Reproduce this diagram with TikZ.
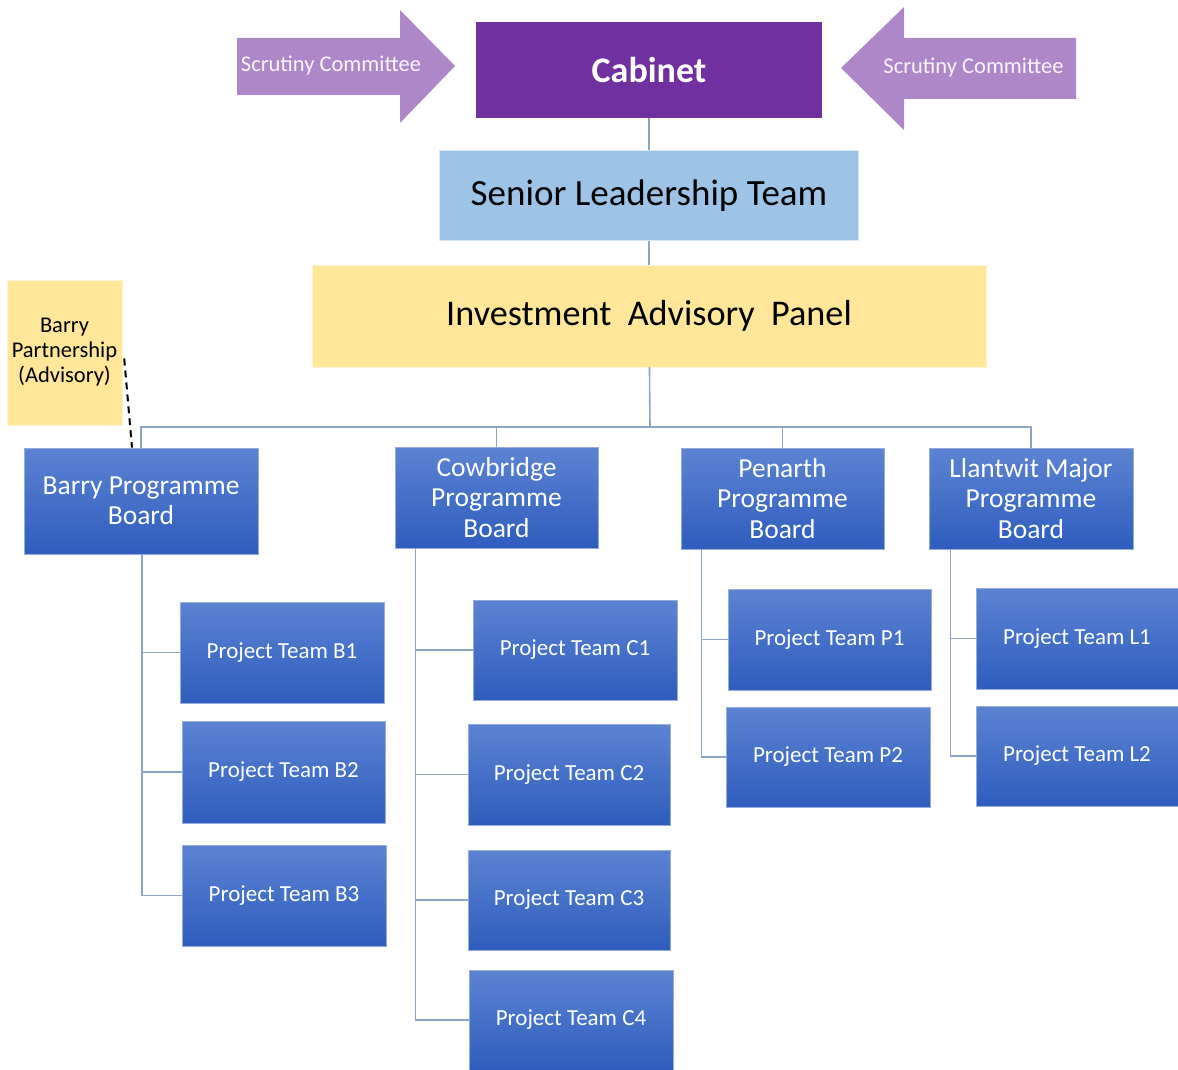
\documentclass[tikz,border=0pt]{standalone}
\usepackage{fontspec}
\setmainfont{Carlito}
\usetikzlibrary{positioning}

\definecolor{cabinetpurple}{HTML}{7030A0}
\definecolor{scrutlilac}{RGB}{174,135,201}
\definecolor{sltblue}{HTML}{9DC3E6}
\definecolor{panelyellow}{HTML}{FFE699}
\definecolor{boardtop}{RGB}{92,131,210}
\definecolor{boardbottom}{RGB}{47,93,190}
\definecolor{boardline}{RGB}{150,172,218}
\definecolor{linkblue}{RGB}{142,163,200}

\begin{document}
\begin{tikzpicture}[
  x=1pt, y=-1pt,
  every node/.style={align=center, inner sep=0pt},
  board/.style={rectangle, draw=boardline, line width=0.8pt, top color=boardtop, bottom color=boardbottom, text=white, minimum width=203pt, minimum height=101pt, font=\fontsize{27.5}{30.5}\selectfont},
  team/.style={board, font=\fontsize{23}{26}\selectfont},
  top/.style={rectangle, minimum width=346pt, minimum height=96pt},
  scrut/.style={fill=scrutlilac},
  scruttext/.style={text=white!92!scrutlilac, font=\fontsize{22.5}{25}\selectfont},
  link/.style={draw=linkblue, line width=1.6pt}
]
\useasboundingbox (0,0) rectangle (1178,1070);

% top of the tree
\node[top, fill=cabinetpurple, text=white, font=\fontsize{36}{40}\selectfont\bfseries] (cabinet) at (649,70) {Cabinet};
\node[top, fill=sltblue, draw=white!60!sltblue, minimum width=419pt, minimum height=90pt, font=\fontsize{37}{40}\selectfont, below=32pt of cabinet] (slt) {Senior Leadership Team};
\node[top, fill=panelyellow, draw=white!60!panelyellow, minimum width=674pt, minimum height=102pt, font=\fontsize{36.2}{40}\selectfont, below=24pt of slt] (panel) {Investment~ Advisory~ Panel};
\node[rectangle, fill=panelyellow, draw=white!60!panelyellow, minimum width=115pt, minimum height=145pt, font=\fontsize{22.5}{25}\selectfont] (partner) at (64.5,352.5) {Barry\\Partnership\\(Advisory)};

% scrutiny arrows
\fill[scrut] (237,38) -- (400,38) -- (400,10) -- (455,66) -- (400,123) -- (400,95) -- (237,95) -- cycle;
\node[scruttext] (scrutL) at (331,66) {Scrutiny Committee};
\fill[scrut] (1076,38) -- (904,38) -- (904,7) -- (841,68) -- (904,130) -- (904,99) -- (1076,99) -- cycle;
\node[scruttext] (scrutR) at (973.5,68) {Scrutiny Committee};

% programme boards
\node[board, minimum width=234pt, minimum height=106pt] (barry) at (141,501) {Barry Programme\\Board};
\node[board] (cowb) at (496.5,497.5) {Cowbridge\\Programme\\Board};
\node[board] (pen) at (782.5,498.5) {Penarth\\Programme\\Board};
\node[board, minimum width=204pt] (llan) at (1031,498.5) {Llantwit Major\\Programme\\Board};

% project teams
\node[team, minimum width=204pt] (b1) at (282,652.5) {Project Team B1};
\node[team, minimum height=102pt] (b2) at (283.5,772) {Project Team B2};
\node[team, minimum width=204pt] (b3) at (284,895.5) {Project Team B3};

\node[team, minimum width=204pt, minimum height=100pt] (c1) at (575,650) {Project Team C1};
\node[team, minimum width=202pt] (c2) at (569,774.5) {Project Team C2};
\node[team, minimum width=202pt, minimum height=100pt] (c3) at (569,900) {Project Team C3};
\node[team, minimum width=204pt, minimum height=100pt] (c4) at (571,1020) {Project Team C4};

\node[team] (p1) at (829.5,639.5) {Project Team P1};
\node[team, minimum width=204pt, minimum height=100pt] (p2) at (828,757) {Project Team P2};

\node[team, minimum width=202pt] (l1) at (1077,638.5) {Project Team L1};
\node[team, minimum width=202pt, minimum height=100pt] (l2) at (1077,756) {Project Team L2};

% connectors
\draw[link] (cabinet) -- (slt);
\draw[link] (slt) -- (panel);
\coordinate (bus) at (650,427);
\draw[link] (panel) -- (bus);
\draw[link] (bus) -| (barry.north);
\draw[link] (bus) -| (cowb.north);
\draw[link] (bus) -| (pen.north);
\draw[link] (bus) -| (llan.north);

\coordinate (bspine) at ([xshift=1pt]barry.south);
\coordinate (cspine) at ([xshift=21pt]cowb.south west);
\coordinate (pspine) at ([xshift=21pt]pen.south west);
\coordinate (lspine) at ([xshift=22pt]llan.south west);

\draw[link] (bspine) |- (b1.west);
\draw[link] (bspine) |- (b2.west);
\draw[link] (bspine) |- (b3.west);

\draw[link] (cspine) |- (c1.west);
\draw[link] (cspine) |- (c2.west);
\draw[link] (cspine) |- (c3.west);
\draw[link] (cspine) |- (c4.west);

\draw[link] (pspine) |- (p1.west);
\draw[link] (pspine) |- (p2.west);

\draw[link] (lspine) |- (l1.west);
\draw[link] (lspine) |- (l2.west);

% advisory link
\draw[dashed, dash pattern=on 7pt off 5pt, line width=2pt] ([shift={(2pt,-6pt)}]partner.east) -- ([xshift=-9pt]barry.north);

\end{tikzpicture}
\end{document}
